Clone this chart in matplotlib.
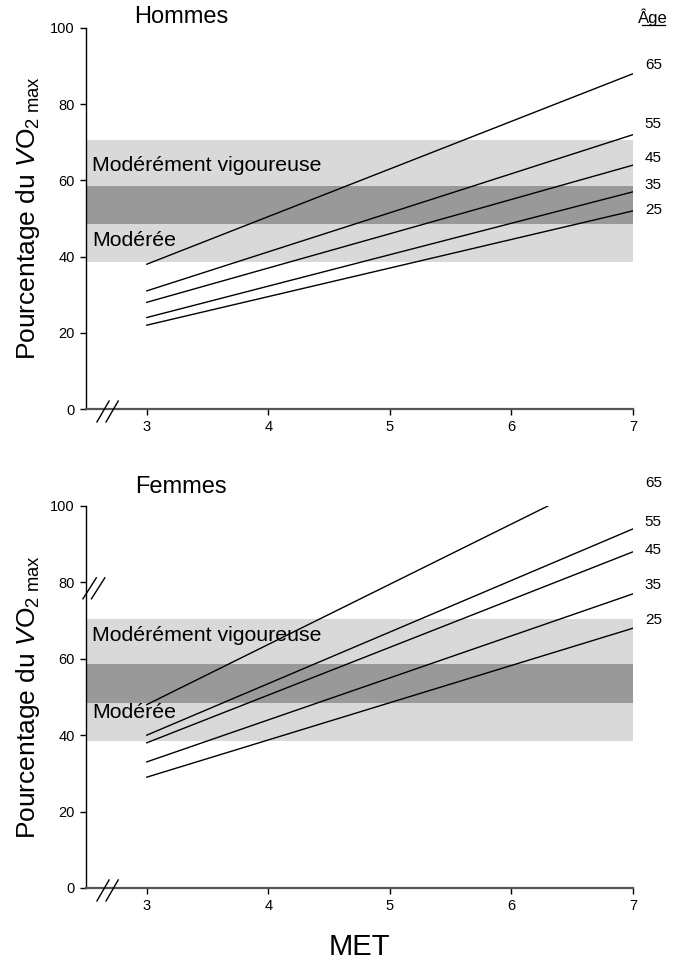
import matplotlib
matplotlib.use("Agg")
import matplotlib.pyplot as plt
import numpy as np

plt.rcParams['font.family'] = ['Liberation Sans', 'DejaVu Sans']
plt.rcParams['mathtext.fontset'] = 'custom'
plt.rcParams['mathtext.rm'] = 'Liberation Sans'
plt.rcParams['mathtext.it'] = 'Liberation Sans:italic'

ages = ["25", "35", "45", "55", "65"]
met_start = 3
# Hommes: (%VO2max at 3 MET, at end MET)
men_start = [22, 24, 28, 31, 38]
men_end = [52, 57, 64, 72, 88]
men_end_met = [7, 7, 7, 7, 7]
# Femmes
women_start = [29, 33, 38, 40, 48]
women_end = [68, 77, 88, 94, 100]
women_end_met = [7, 7, 7, 7, 6.3]

band_light = (38.5, 70.5)
band_dark = (48.5, 58.5)
xticks = [3, 4, 5, 6, 7]
yticks = [0, 20, 40, 60, 80, 100]

fig = plt.figure(figsize=(6.74, 9.61), dpi=100)
ax1 = fig.add_axes([0.1276, 0.5744, 0.8116, 0.3965])
ax2 = fig.add_axes([0.1276, 0.0760, 0.8116, 0.3975])

ylab = r'Pourcentage du $\mathit{V}\mathrm{O}_{2\ \mathrm{max}}$'

def setup(ax, starts, ends, end_mets, title, title_y, label_y, text_y, show_age, ybreak):
    ax.set_xlim(2.5, 7)
    ax.set_ylim(0, 100)
    ax.axhspan(band_light[0], band_light[1], color='#d9d9d9', zorder=0, lw=0)
    ax.axhspan(band_dark[0], band_dark[1], color='#999999', zorder=1, lw=0)
    for s, e, em in zip(starts, ends, end_mets):
        ax.plot([met_start, em], [s, e], color='black', lw=1.0, zorder=3)
    for a, yy in zip(ages, label_y):
        ax.text(1.037, yy, a, transform=ax.get_yaxis_transform(), fontsize=11,
                ha='center', va='center', clip_on=False)
    if show_age:
        ax.text(1.037, 102.9, 'Âge', transform=ax.get_yaxis_transform(),
                fontsize=12, ha='center', va='center', clip_on=False)
        ax.plot([1.016, 1.058], [100.7, 100.7], transform=ax.get_yaxis_transform(),
                color='black', lw=0.9, clip_on=False)
    ax.text(3.28, title_y, title, fontsize=17, ha='center', va='center', clip_on=False)
    ax.text(2.55, text_y[0], 'Modérément vigoureuse', fontsize=15.3, ha='left', va='center')
    ax.text(2.55, text_y[1], 'Modérée', fontsize=15.3, ha='left', va='center')
    ax.spines['top'].set_visible(False)
    ax.spines['right'].set_visible(False)
    ax.spines['left'].set_linewidth(1.0)
    ax.spines['bottom'].set_color('#555555')
    ax.spines['bottom'].set_linewidth(1.6)
    ax.set_xticks(xticks)
    ax.set_yticks(yticks)
    ax.tick_params(axis='both', direction='out', labelsize=10.5, length=4.5, width=1)
    ax.set_ylabel(ylab, fontsize=19, labelpad=6)
    # x-axis break marks
    for xo in (2.64, 2.715):
        ax.plot([xo - 0.05, xo + 0.05], [-3.4, 2.1], color='black', lw=1.0, clip_on=False, zorder=5)
    if ybreak:
        for xo in (2.53, 2.60):
            ax.plot([xo - 0.055, xo + 0.055], [75.7, 81.2], color='black', lw=1.0, clip_on=False, zorder=5)

setup(ax1, men_start, men_end, men_end_met, 'Hommes', 102.9,
      [52.2, 58.8, 65.9, 74.8, 90.3], (64.0, 44.2), True, False)
setup(ax2, women_start, women_end, women_end_met, 'Femmes', 105.0,
      [70.2, 79.3, 88.5, 95.8, 106.0], (66.0, 46.0), False, True)

ax2.set_xlabel('MET', fontsize=21, labelpad=14)

fig.savefig('out.png', dpi=100)
